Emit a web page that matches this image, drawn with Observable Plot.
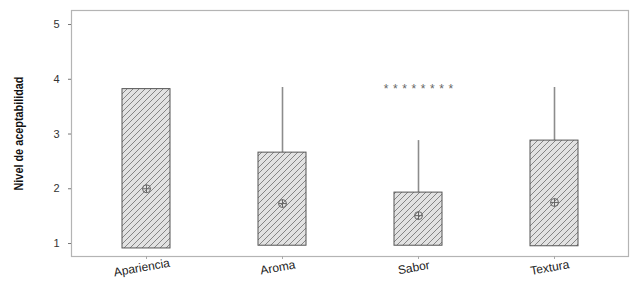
<!DOCTYPE html>
<html>
<head>
<meta charset="utf-8">
<script src="https://cdn.jsdelivr.net/npm/d3@7"></script>
<script src="https://cdn.jsdelivr.net/npm/@observablehq/plot@0.6"></script>
<style>
  html, body { margin: 0; padding: 0; background: #fff; }
  #chart { width: 639px; height: 289px; }
</style>
</head>
<body>
<div id="chart"></div>
<script>
const categories = ["Apariencia", "Aroma", "Sabor", "Textura"];
const boxLow = [0.91, 0.96, 0.96, 0.95];
const boxHigh = [3.82, 2.66, 1.93, 2.88];
const whiskerHigh = [3.82, 3.85, 2.88, 3.85];
const means = [2.0, 1.73, 1.51, 1.75];
const outlierCategory = ["Sabor"];
const outlierValue = [3.87];
const outlierCount = [8];
const yTicks = [1, 2, 3, 4, 5];
const yTitle = "Nivel de aceptabilidad";

const rows = categories.map((c, i) => ({
  cat: c, low: boxLow[i], high: boxHigh[i], whisker: whiskerHigh[i], mean: means[i]
}));
const outliers = outlierCategory.map((c, i) => ({
  cat: c, value: outlierValue[i], text: "*".repeat(outlierCount[i])
}));

const crossCircle = {
  draw(ctx, size) {
    const r = Math.sqrt(size / Math.PI);
    ctx.moveTo(r, 0);
    ctx.arc(0, 0, r, 0, 2 * Math.PI);
    ctx.moveTo(-r, 0); ctx.lineTo(r, 0);
    ctx.moveTo(0, -r); ctx.lineTo(0, r);
  }
};

const chart = Plot.plot({
  width: 639,
  height: 289,
  marginLeft: 71,
  marginRight: 11,
  marginTop: 10,
  marginBottom: 33,
  style: { fontFamily: "'Liberation Sans', Arial, sans-serif", fontSize: "11px", color: "#333", background: "#fff" },
  x: { domain: categories, type: "band", paddingInner: 0.65, paddingOuter: 0.36 },
  y: { domain: [0.763, 5.256] },
  marks: [
    Plot.ruleX(rows, { x: "cat", y1: "high", y2: "whisker", stroke: "#8c8c8c", strokeWidth: 1.6 }),
    Plot.barY(rows, { x: "cat", y1: "low", y2: "high", fill: "url(#hatch)", stroke: "#555", strokeWidth: 1 }),
    Plot.dot(rows, { x: "cat", y: "mean", r: 4, symbol: crossCircle, fill: "none", stroke: "#666", strokeWidth: 1 }),
    Plot.text(outliers, { x: "cat", y: "value", text: "text", fontSize: 12, fill: "#666", dy: 3 }),
    Plot.frame({ stroke: "#b4b4b4", strokeWidth: 1.2 }),
    Plot.axisY({ ticks: yTicks, tickFormat: d3.format("d"), tickSize: 3, tickPadding: 9, label: null, stroke: "#777", fontSize: 11 }),
    Plot.axisX({ tickSize: 3, tickFormat: () => "", label: null, stroke: "#aaa" }),
    Plot.text(categories, { x: d => d, frameAnchor: "bottom", dy: 15, dx: -4, rotate: -10, fontSize: 12, fill: "#222", textAnchor: "middle" }),
    Plot.text([yTitle], { text: d => d, frameAnchor: "left", dx: -53, rotate: -90, textAnchor: "middle", fontWeight: "bold", fontSize: 13, fill: "#111" })
  ]
});

const ns = "http://www.w3.org/2000/svg";
const defs = document.createElementNS(ns, "defs");
const pat = document.createElementNS(ns, "pattern");
pat.setAttribute("id", "hatch");
pat.setAttribute("patternUnits", "userSpaceOnUse");
pat.setAttribute("width", "6");
pat.setAttribute("height", "6");
const bg = document.createElementNS(ns, "rect");
bg.setAttribute("width", "6"); bg.setAttribute("height", "6"); bg.setAttribute("fill", "#e2e2e2");
const ln = document.createElementNS(ns, "path");
ln.setAttribute("d", "M0,6L6,0M-1,1L1,-1M5,7L7,5");
ln.setAttribute("stroke", "#7a7a7a"); ln.setAttribute("stroke-width", "0.9");
pat.appendChild(bg); pat.appendChild(ln); defs.appendChild(pat);
chart.insertBefore(defs, chart.firstChild);

const outlierTexts = new Set(outliers.map(d => d.text));
chart.querySelectorAll("text").forEach(t => {
  if (outlierTexts.has(t.textContent)) {
    t.setAttribute("letter-spacing", "4.6");
    t.style.letterSpacing = "4.6px";
    t.setAttribute("dx", "2.3");
  } else if (t.textContent === yTitle) {
    t.setAttribute("textLength", "114");
    t.setAttribute("lengthAdjust", "spacingAndGlyphs");
  }
});

document.getElementById("chart").appendChild(chart);
</script>
</body>
</html>
